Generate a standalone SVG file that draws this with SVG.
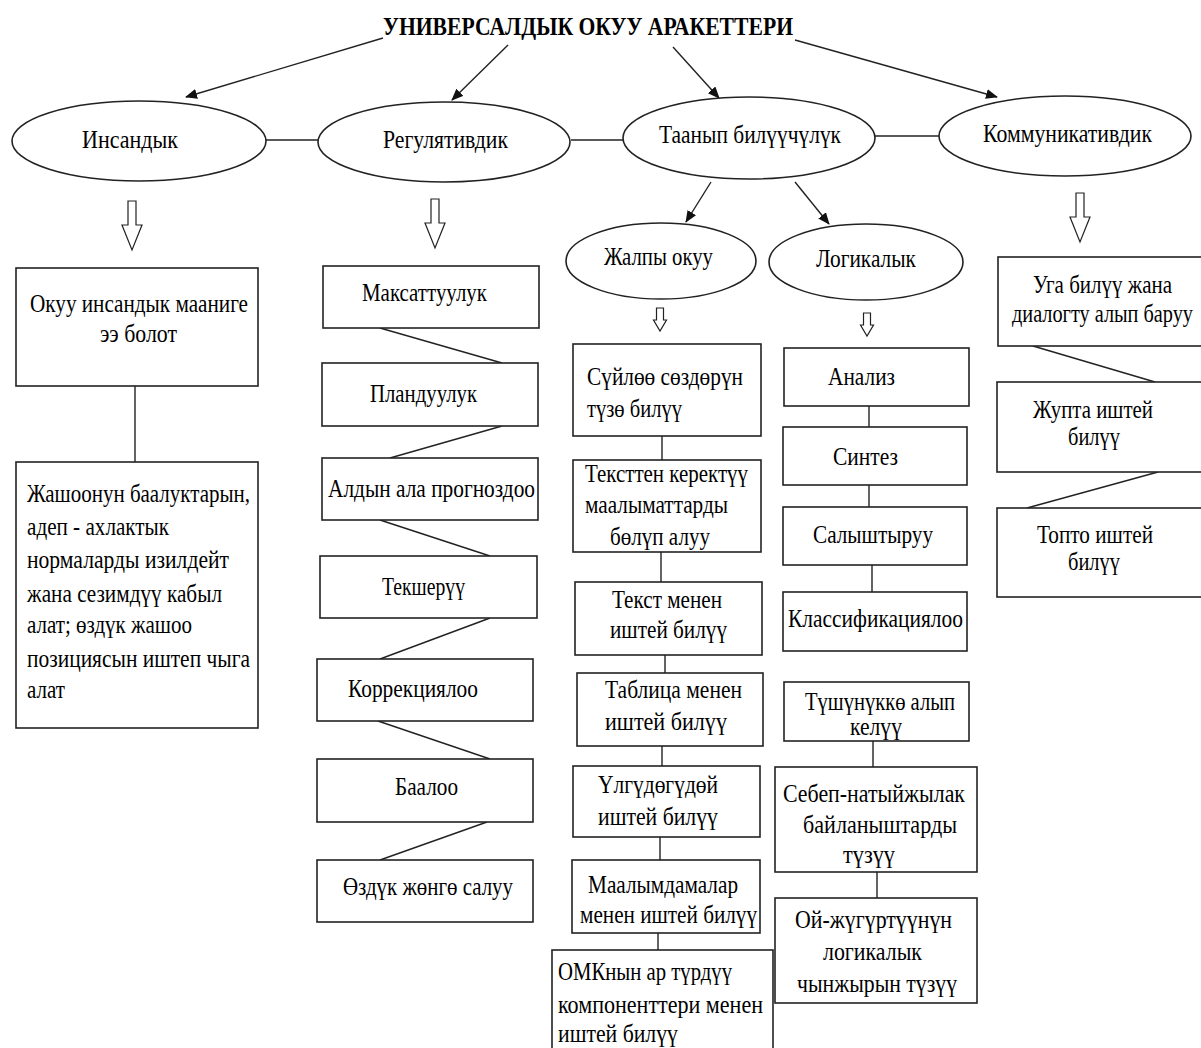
<svg xmlns="http://www.w3.org/2000/svg" width="1201" height="1048" viewBox="0 0 1201 1048">
<style>
.t{font-family:"Liberation Serif","Times New Roman",serif;font-size:25px;fill:#000;}
.title{font-family:"Liberation Serif","Times New Roman",serif;font-size:25px;font-weight:bold;fill:#000;}
.box{fill:#fff;stroke:#222;stroke-width:1.6;}
.ell{fill:#fff;stroke:#222;stroke-width:1.6;}
.ln{fill:none;stroke:#222;stroke-width:1.4;}
.hol{fill:#fff;stroke:#222;stroke-width:1.2;}
</style>
<defs>
<marker id="ah" markerWidth="12" markerHeight="10" refX="11" refY="5" orient="auto" markerUnits="userSpaceOnUse">
<path d="M0,0 L12,5 L0,10 z" fill="#111"/>
</marker>
<path id="bigArrow" d="M-4,0 H4 V24 H10 L0,49 L-10,24 H-4 Z"/>
<path id="smallArrow" d="M-3.5,0 H3.5 V12 H6.5 L0,23 L-6.5,12 H-3.5 Z"/>
</defs>
<rect width="1201" height="1048" fill="#fff"/>

<g id="connectors">
<line class="ln" x1="383" y1="38" x2="186" y2="97" marker-end="url(#ah)"/>
<line class="ln" x1="508" y1="45" x2="452" y2="100" marker-end="url(#ah)"/>
<line class="ln" x1="673" y1="47" x2="719" y2="98" marker-end="url(#ah)"/>
<line class="ln" x1="795" y1="40" x2="997" y2="97" marker-end="url(#ah)"/>
<line class="ln" x1="266" y1="140" x2="318" y2="140"/>
<line class="ln" x1="571" y1="140" x2="623" y2="140"/>
<line class="ln" x1="875" y1="136" x2="939" y2="136"/>
<line class="ln" x1="711" y1="182" x2="686" y2="222" marker-end="url(#ah)"/>
<line class="ln" x1="795" y1="182" x2="829" y2="224" marker-end="url(#ah)"/>
<line class="ln" x1="135" y1="386" x2="135" y2="462"/>
<line class="ln" x1="380" y1="328" x2="502" y2="363"/>
<line class="ln" x1="502" y1="426" x2="390" y2="458"/>
<line class="ln" x1="380" y1="520" x2="490" y2="556"/>
<line class="ln" x1="490" y1="618" x2="380" y2="659"/>
<line class="ln" x1="378" y1="721" x2="490" y2="759"/>
<line class="ln" x1="487" y1="822" x2="380" y2="860"/>
<line class="ln" x1="662" y1="436" x2="662" y2="460"/>
<line class="ln" x1="661" y1="552" x2="661" y2="582"/>
<line class="ln" x1="665" y1="655" x2="665" y2="673"/>
<line class="ln" x1="662" y1="746" x2="662" y2="766"/>
<line class="ln" x1="660" y1="837" x2="660" y2="860"/>
<line class="ln" x1="658" y1="933" x2="658" y2="950"/>
<line class="ln" x1="869" y1="406" x2="869" y2="427"/>
<line class="ln" x1="869" y1="485" x2="869" y2="507"/>
<line class="ln" x1="872" y1="565" x2="872" y2="592"/>
<line class="ln" x1="873" y1="741" x2="873" y2="767"/>
<line class="ln" x1="877" y1="872" x2="877" y2="898"/>
<line class="ln" x1="1033" y1="346" x2="1155" y2="382"/>
<line class="ln" x1="1158" y1="472" x2="1027" y2="508"/>
<use href="#bigArrow" class="hol" x="132" y="201"/>
<use href="#bigArrow" class="hol" x="435" y="199"/>
<use href="#bigArrow" class="hol" x="1080" y="193"/>
<use href="#smallArrow" class="hol" x="660" y="308"/>
<use href="#smallArrow" class="hol" x="867" y="313"/>
</g>

<g id="title"><text class="title" x="383" y="35" textLength="410" lengthAdjust="spacingAndGlyphs">УНИВЕРСАЛДЫК ОКУУ АРАКЕТТЕРИ</text></g>

<g id="n-insandyk"><ellipse class="ell" cx="139" cy="141" rx="127" ry="40"/><text class="t" x="82" y="148" textLength="96" lengthAdjust="spacingAndGlyphs">Инсандык</text></g>
<g id="n-regul"><ellipse class="ell" cx="444" cy="142" rx="126" ry="40"/><text class="t" x="383" y="148" textLength="125" lengthAdjust="spacingAndGlyphs">Регулятивдик</text></g>
<g id="n-taanyp"><ellipse class="ell" cx="749" cy="138" rx="126" ry="41"/><text class="t" x="659" y="143" textLength="182" lengthAdjust="spacingAndGlyphs">Таанып билүүчүлүк</text></g>
<g id="n-komm"><ellipse class="ell" cx="1065" cy="136" rx="126" ry="40"/><text class="t" x="983" y="142" textLength="169" lengthAdjust="spacingAndGlyphs">Коммуникативдик</text></g>
<g id="n-jalpy"><ellipse class="ell" cx="661" cy="261" rx="95" ry="38"/><text class="t" x="604" y="265" textLength="109" lengthAdjust="spacingAndGlyphs">Жалпы окуу</text></g>
<g id="n-logik"><ellipse class="ell" cx="866" cy="262" rx="97" ry="38"/><text class="t" x="816" y="267" textLength="100" lengthAdjust="spacingAndGlyphs">Логикалык</text></g>

<g id="n-l1"><rect class="box" x="16" y="268" width="242" height="118"/>
<text class="t" x="30" y="312" textLength="218" lengthAdjust="spacingAndGlyphs">Окуу инсандык мааниге</text>
<text class="t" x="100" y="342" textLength="77" lengthAdjust="spacingAndGlyphs">ээ болот</text></g>
<g id="n-l2"><rect class="box" x="16" y="462" width="242" height="266"/>
<text class="t" x="27" y="502" textLength="223" lengthAdjust="spacingAndGlyphs">Жашоонун баалуктарын,</text>
<text class="t" x="27" y="535" textLength="142" lengthAdjust="spacingAndGlyphs">адеп - ахлактык</text>
<text class="t" x="27" y="568" textLength="202" lengthAdjust="spacingAndGlyphs">нормаларды изилдейт</text>
<text class="t" x="27" y="602" textLength="195" lengthAdjust="spacingAndGlyphs">жана сезимдүү кабыл</text>
<text class="t" x="27" y="633" textLength="165" lengthAdjust="spacingAndGlyphs">алат; өздүк жашоо</text>
<text class="t" x="27" y="667" textLength="223" lengthAdjust="spacingAndGlyphs">позициясын иштеп чыга</text>
<text class="t" x="27" y="698" textLength="38" lengthAdjust="spacingAndGlyphs">алат</text></g>

<g id="n-r1"><rect class="box" x="323" y="266" width="216" height="62"/><text class="t" x="362" y="301" textLength="125" lengthAdjust="spacingAndGlyphs">Максаттуулук</text></g>
<g id="n-r2"><rect class="box" x="322" y="363" width="216" height="63"/><text class="t" x="370" y="402" textLength="107" lengthAdjust="spacingAndGlyphs">Пландуулук</text></g>
<g id="n-r3"><rect class="box" x="322" y="458" width="216" height="62"/><text class="t" x="328" y="497" textLength="207" lengthAdjust="spacingAndGlyphs">Алдын ала прогноздоо</text></g>
<g id="n-r4"><rect class="box" x="320" y="556" width="217" height="62"/><text class="t" x="382" y="595" textLength="83" lengthAdjust="spacingAndGlyphs">Текшерүү</text></g>
<g id="n-r5"><rect class="box" x="317" y="659" width="216" height="62"/><text class="t" x="348" y="697" textLength="130" lengthAdjust="spacingAndGlyphs">Коррекциялоо</text></g>
<g id="n-r6"><rect class="box" x="317" y="759" width="216" height="63"/><text class="t" x="395" y="795" textLength="63" lengthAdjust="spacingAndGlyphs">Баалоо</text></g>
<g id="n-r7"><rect class="box" x="317" y="860" width="216" height="62"/><text class="t" x="343" y="895" textLength="170" lengthAdjust="spacingAndGlyphs">Өздүк жөнгө салуу</text></g>

<g id="n-j1"><rect class="box" x="573" y="344" width="188" height="92"/>
<text class="t" x="587" y="385" textLength="156" lengthAdjust="spacingAndGlyphs">Сүйлөө сөздөрүн</text>
<text class="t" x="587" y="417" textLength="95" lengthAdjust="spacingAndGlyphs">түзө билүү</text></g>
<g id="n-j2"><rect class="box" x="573" y="460" width="188" height="92"/>
<text class="t" x="585" y="482" textLength="163" lengthAdjust="spacingAndGlyphs">Тексттен керектүү</text>
<text class="t" x="585" y="513" textLength="143" lengthAdjust="spacingAndGlyphs">маалыматтарды</text>
<text class="t" x="610" y="545" textLength="100" lengthAdjust="spacingAndGlyphs">бөлүп алуу</text></g>
<g id="n-j3"><rect class="box" x="575" y="582" width="187" height="73"/>
<text class="t" x="612" y="608" textLength="110" lengthAdjust="spacingAndGlyphs">Текст менен</text>
<text class="t" x="610" y="638" textLength="117" lengthAdjust="spacingAndGlyphs">иштей билүү</text></g>
<g id="n-j4"><rect class="box" x="577" y="673" width="186" height="73"/>
<text class="t" x="605" y="698" textLength="137" lengthAdjust="spacingAndGlyphs">Таблица менен</text>
<text class="t" x="605" y="730" textLength="122" lengthAdjust="spacingAndGlyphs">иштей билүү</text></g>
<g id="n-j5"><rect class="box" x="573" y="766" width="187" height="71"/>
<text class="t" x="598" y="793" textLength="120" lengthAdjust="spacingAndGlyphs">Үлгүдөгүдөй</text>
<text class="t" x="598" y="825" textLength="120" lengthAdjust="spacingAndGlyphs">иштей билүү</text></g>
<g id="n-j6"><rect class="box" x="572" y="860" width="188" height="73"/>
<text class="t" x="588" y="893" textLength="150" lengthAdjust="spacingAndGlyphs">Маалымдамалар</text>
<text class="t" x="580" y="923" textLength="177" lengthAdjust="spacingAndGlyphs">менен иштей билүү</text></g>
<g id="n-j7"><rect class="box" x="552" y="950" width="221" height="110"/>
<text class="t" x="558" y="980" textLength="174" lengthAdjust="spacingAndGlyphs">ОМКнын ар түрдүү</text>
<text class="t" x="558" y="1013" textLength="205" lengthAdjust="spacingAndGlyphs">компоненттери менен</text>
<text class="t" x="558" y="1042" textLength="120" lengthAdjust="spacingAndGlyphs">иштей билүү</text></g>

<g id="n-g1"><rect class="box" x="784" y="348" width="185" height="58"/><text class="t" x="828" y="385" textLength="67" lengthAdjust="spacingAndGlyphs">Анализ</text></g>
<g id="n-g2"><rect class="box" x="783" y="427" width="184" height="58"/><text class="t" x="833" y="465" textLength="65" lengthAdjust="spacingAndGlyphs">Синтез</text></g>
<g id="n-g3"><rect class="box" x="783" y="507" width="184" height="58"/><text class="t" x="813" y="543" textLength="120" lengthAdjust="spacingAndGlyphs">Салыштыруу</text></g>
<g id="n-g4"><rect class="box" x="783" y="592" width="184" height="59"/><text class="t" x="788" y="627" textLength="175" lengthAdjust="spacingAndGlyphs">Классификациялоо</text></g>
<g id="n-g5"><rect class="box" x="784" y="682" width="185" height="59"/>
<text class="t" x="805" y="710" textLength="150" lengthAdjust="spacingAndGlyphs">Түшүнүккө алып</text>
<text class="t" x="850" y="735" textLength="52" lengthAdjust="spacingAndGlyphs">келүү</text></g>
<g id="n-g6"><rect class="box" x="775" y="767" width="202" height="105"/>
<text class="t" x="783" y="802" textLength="182" lengthAdjust="spacingAndGlyphs">Себеп-натыйжылак</text>
<text class="t" x="803" y="833" textLength="154" lengthAdjust="spacingAndGlyphs">байланыштарды</text>
<text class="t" x="843" y="863" textLength="52" lengthAdjust="spacingAndGlyphs">түзүү</text></g>
<g id="n-g7"><rect class="box" x="775" y="898" width="202" height="105"/>
<text class="t" x="795" y="928" textLength="157" lengthAdjust="spacingAndGlyphs">Ой-жүгүртүүнүн</text>
<text class="t" x="823" y="960" textLength="99" lengthAdjust="spacingAndGlyphs">логикалык</text>
<text class="t" x="797" y="992" textLength="160" lengthAdjust="spacingAndGlyphs">чынжырын түзүү</text></g>

<g id="n-k1"><rect class="box" x="998" y="257" width="220" height="89"/>
<text class="t" x="1012" y="322" textLength="181" lengthAdjust="spacingAndGlyphs">диалогту алып баруу</text>
<text class="t" x="1033" y="293" textLength="139" lengthAdjust="spacingAndGlyphs">Уга билүү жана</text></g>
<g id="n-k2"><rect class="box" x="997" y="382" width="220" height="90"/>
<text class="t" x="1033" y="418" textLength="120" lengthAdjust="spacingAndGlyphs">Жупта иштей</text>
<text class="t" x="1068" y="445" textLength="52" lengthAdjust="spacingAndGlyphs">билүү</text></g>
<g id="n-k3"><rect class="box" x="997" y="508" width="220" height="89"/>
<text class="t" x="1037" y="543" textLength="116" lengthAdjust="spacingAndGlyphs">Топто иштей</text>
<text class="t" x="1068" y="570" textLength="52" lengthAdjust="spacingAndGlyphs">билүү</text></g>
</svg>
